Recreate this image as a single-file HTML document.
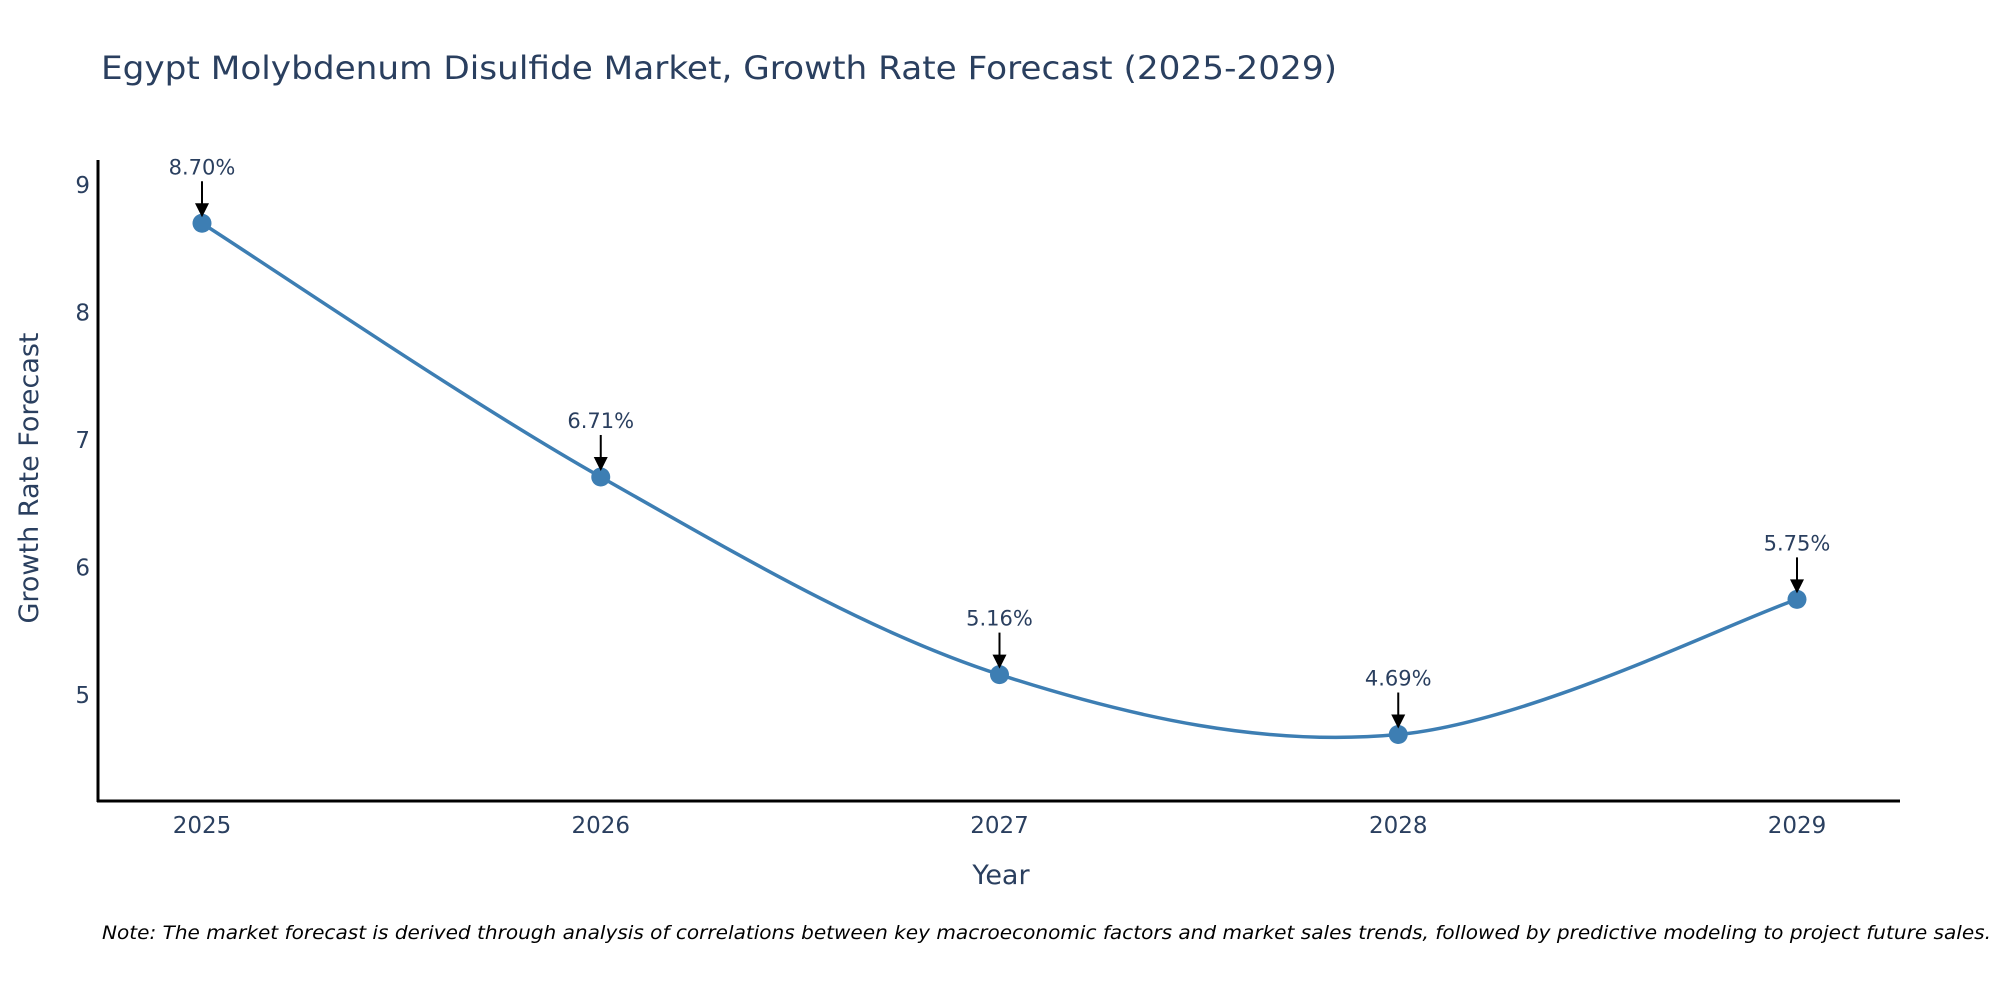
<!DOCTYPE html>
<html><head><meta charset="utf-8"><style>
body{margin:0;background:#fff;}
svg{display:block;font-family:"DejaVu Sans","Liberation Sans",sans-serif;}
</style></head><body>
<svg id="chart" width="2000" height="1000" viewBox="0 0 2000 1000">
<text x="101" y="79" font-size="32" fill="#2a3f5f" textLength="1236" lengthAdjust="spacingAndGlyphs">Egypt Molybdenum Disulfide Market, Growth Rate Forecast (2025-2029)</text>
<g id="yticks"></g>
<g id="xticks"></g>
<line x1="98" y1="160" x2="98" y2="802" stroke="#000" stroke-width="3"/>
<line x1="97" y1="801" x2="1900" y2="801" stroke="#000" stroke-width="3"/>
<text x="1001" y="884" font-size="27" fill="#2a3f5f" text-anchor="middle">Year</text>
<text transform="translate(38,478) rotate(-90)" font-size="27" fill="#2a3f5f" text-anchor="middle">Growth Rate Forecast</text>
<g id="series"></g>
<g id="annots"></g>
<text x="102" y="939" font-size="19" font-style="italic" fill="#000" textLength="1889" lengthAdjust="spacingAndGlyphs">Note: The market forecast is derived through analysis of correlations between key macroeconomic factors and market sales trends, followed by predictive modeling to project future sales.</text>
</svg>
<script>
const years = [2025, 2026, 2027, 2028, 2029];
const growth = [8.70, 6.71, 5.16, 4.69, 5.75];
const yTicks = [5, 6, 7, 8, 9];
const labels = ["8.70%", "6.71%", "5.16%", "4.69%", "5.75%"];

const NS = "http://www.w3.org/2000/svg";
function xs(v){ return 202 + (v - 2025) * (1797 - 202) / 4; }
function ys(v){ return 695 - (v - 5) * 127.5; }
function mk(tag, attrs, parent){
  const e = document.createElementNS(NS, tag);
  for (const k in attrs) e.setAttribute(k, attrs[k]);
  parent.appendChild(e); return e;
}
const yg = document.getElementById('yticks');
yTicks.forEach(t => {
  const e = mk('text', {x: 90, y: ys(t) + 8, 'font-size': 23, fill: '#2a3f5f', 'text-anchor': 'end'}, yg);
  
  
  e.textContent = t;
});
const xg = document.getElementById('xticks');
years.forEach(y => {
  const e = mk('text', {x: xs(y), y: 833, 'font-size': 23, fill: '#2a3f5f', 'text-anchor': 'middle'}, xg);
  
  
  e.textContent = y;
});
const pts = years.map((y, i) => [xs(y), ys(growth[i])]);
let d = `M${pts[0][0]},${pts[0][1]}`;
for (let i = 0; i < pts.length - 1; i++) {
  const p0 = pts[Math.max(i - 1, 0)], p1 = pts[i], p2 = pts[i + 1], p3 = pts[Math.min(i + 2, pts.length - 1)];
  const c1 = [p1[0] + (p2[0] - p0[0]) / 6, p1[1] + (p2[1] - p0[1]) / 6];
  const c2 = [p2[0] - (p3[0] - p1[0]) / 6, p2[1] - (p3[1] - p1[1]) / 6];
  d += ` C${c1[0]},${c1[1]} ${c2[0]},${c2[1]} ${p2[0]},${p2[1]}`;
}
const sg = document.getElementById('series');
const line = mk('path', {d: d, fill: 'none', stroke: '#3d7eb3', 'stroke-width': 3.5}, sg);


const ag = document.getElementById('annots');
pts.forEach((p, i) => {
  const c = mk('circle', {cx: p[0], cy: p[1], r: 9.5, fill: '#3d7eb3'}, sg);
  
  
  const a = mk('line', {x1: p[0], y1: p[1] - 42, x2: p[0], y2: p[1] - 18, stroke: '#000', 'stroke-width': 2}, ag);
  
  
  const h = mk('polygon', {points: `${p[0]-7},${p[1]-20} ${p[0]+7},${p[1]-20} ${p[0]},${p[1]-6}`, fill: '#000'}, ag);
  
  
  const t = mk('text', {x: p[0], y: p[1] - 49, 'font-size': 21, fill: '#2a3f5f', 'text-anchor': 'middle'}, ag);
  
  
  t.textContent = labels[i];
});
</script>
</body></html>
